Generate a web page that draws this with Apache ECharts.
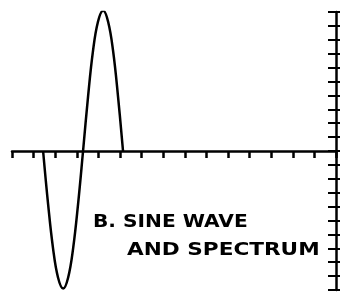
<!DOCTYPE html>
<html><head><meta charset="utf-8">
<script src="https://cdn.jsdelivr.net/npm/echarts@6/dist/echarts.min.js"></script>
<style>html,body{margin:0;padding:0;background:#fff}#c{width:345px;height:297px}</style>
</head><body><div id="c"></div>
<script>
// Sine wave samples: [x (tick units), y (tick units)]
const waveX = [1.44, 1.67, 1.90, 2.13, 2.37, 2.60, 2.83, 3.06, 3.29, 3.52, 3.75, 3.98, 4.22, 4.45, 4.68, 4.91, 5.14];
const waveY = [0, -3.8, -7.0, -9.1, -9.9, -9.1, -7.0, -3.8, 0, 3.9, 7.2, 9.3, 10.1, 9.3, 7.2, 3.9, 0];
const titleLines = ["B. SINE WAVE", "AND SPECTRUM"];
const xRange = [0, 15];
const yRange = [-10, 10];

const chart = echarts.init(document.getElementById('c'), null, {renderer: 'canvas'});
const axisStyle = {color: '#000', width: 2.5};
chart.setOption({
  animation: false,
  backgroundColor: '#fff',
  grid: {left: 12, right: 9, top: 12, bottom: 7},
  xAxis: {
    type: 'value', min: xRange[0], max: xRange[1], interval: 1,
    axisLine: {onZero: true, lineStyle: axisStyle},
    axisTick: {show: true, length: 7, lineStyle: {color: '#000', width: 2.5}},
    axisLabel: {show: false}, splitLine: {show: false}
  },
  yAxis: [{
    type: 'value', position: 'right', min: yRange[0], max: yRange[1], interval: 1,
    axisLine: {show: true, onZero: false, lineStyle: axisStyle},
    axisTick: {show: true, inside: true, length: 8, lineStyle: {color: '#000', width: 2}},
    axisLabel: {show: false}, splitLine: {show: false}
  }, {
    type: 'value', position: 'right', min: yRange[0], max: yRange[1], interval: 1,
    axisLine: {show: false, onZero: false},
    axisTick: {show: true, inside: false, length: 4, lineStyle: {color: '#000', width: 2}},
    axisLabel: {show: false}, splitLine: {show: false}
  }],
  series: [{
    type: 'line', smooth: 0.4, symbol: 'none',
    lineStyle: {color: '#000', width: 2.5},
    data: waveX.map((x, i) => [x, waveY[i]])
  }],
  graphic: [
    {type: 'text', x: 93, y: 222, scaleX: 1.12,
     style: {text: titleLines[0], font: 'bold 18px "DejaVu Sans"', fill: '#000', textVerticalAlign: 'middle'}},
    {type: 'text', x: 127, y: 250, scaleX: 1.2,
     style: {text: titleLines[1], font: 'bold 18px "DejaVu Sans"', fill: '#000', textVerticalAlign: 'middle'}}
  ]
});
</script></body></html>
